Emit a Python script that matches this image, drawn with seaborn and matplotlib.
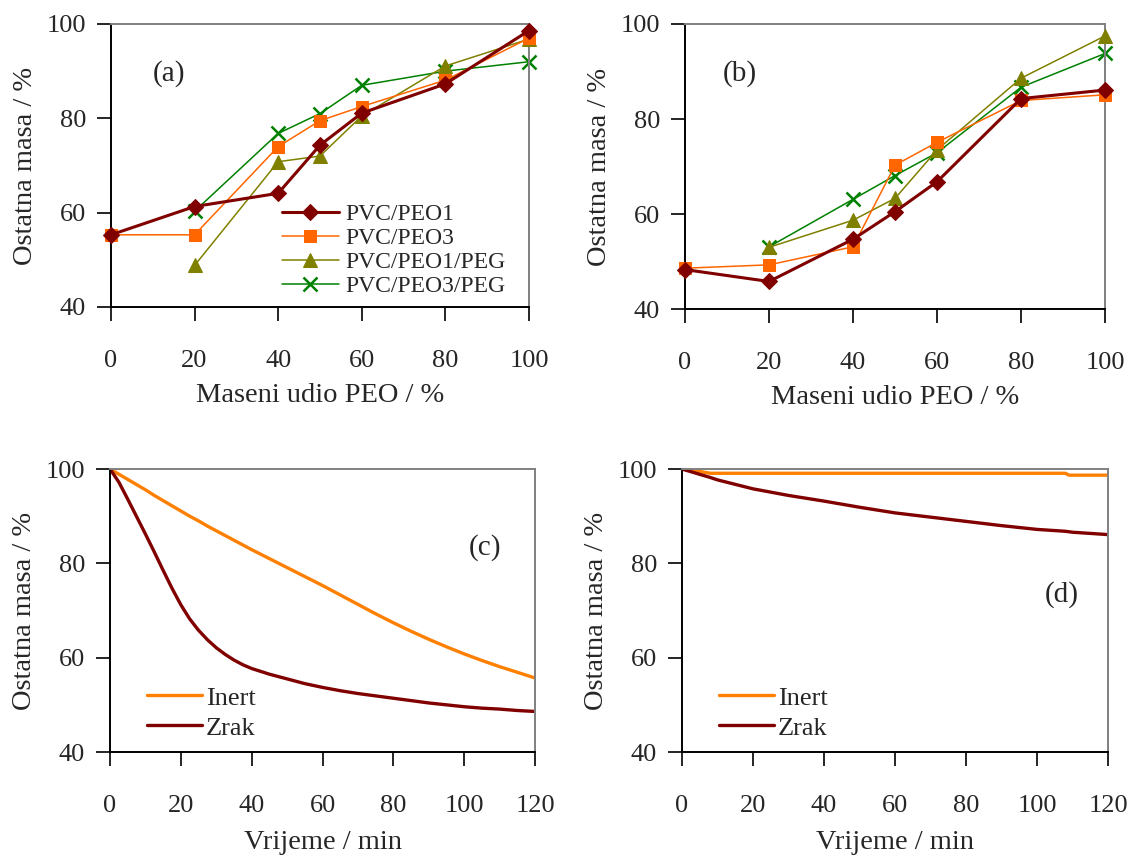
import numpy as np
import pandas as pd
import matplotlib
matplotlib.use("Agg")
import matplotlib.pyplot as plt
import seaborn as sns

# ---------------- data ----------------
peo_x = [0, 20, 40, 50, 60, 80, 100]
peo_x_peg = [20, 40, 50, 60, 80, 100]

# panel (a)
a_peo1 = [55.3, 61.3, 64.1, 74.3, 81.1, 87.3, 98.6]
a_peo3 = [55.3, 55.3, 74.0, 79.5, 82.5, 88.1, 97.0]
a_peo1_peg = [48.8, 70.8, 72.0, 80.5, 91.1, 96.8]
a_peo3_peg = [60.3, 76.8, 81.0, 87.0, 90.0, 92.0]

# panel (b)
b_peo1 = [48.3, 45.8, 54.7, 60.5, 66.8, 84.3, 86.1]
b_peo3 = [48.6, 49.3, 53.1, 70.3, 75.1, 83.9, 85.1]
b_peo1_peg = [53.0, 58.7, 63.3, 73.5, 88.6, 97.5]
b_peo3_peg = [53.1, 63.1, 68.1, 72.9, 86.7, 93.8]

series_names = ["PVC/PEO1", "PVC/PEO3", "PVC/PEO1/PEG", "PVC/PEO3/PEG"]

# panel (c) time curves
t_c = [0, 2.5, 5, 7.5, 10, 12.5, 15, 17.5, 20, 22.5, 25, 27.5, 30, 32.5, 35,
       37.5, 40, 45, 50, 55, 60, 65, 70, 75, 80, 85, 90, 95, 100, 105, 110,
       115, 120]
c_inert = [100.0, 98.9, 97.8, 96.7, 95.6, 94.4, 93.3, 92.2, 91.1, 90.0, 89.0,
           87.9, 86.9, 85.9, 84.9, 83.9, 82.9, 81.0, 79.1, 77.2, 75.3, 73.3,
           71.3, 69.3, 67.4, 65.6, 63.9, 62.3, 60.8, 59.4, 58.1, 56.9, 55.7]
c_zrak = [100.0, 97.2, 93.6, 89.9, 86.2, 82.4, 78.5, 74.7, 71.2, 68.2, 65.8,
          63.8, 62.1, 60.7, 59.5, 58.5, 57.7, 56.5, 55.5, 54.5, 53.7, 53.0,
          52.4, 51.9, 51.4, 50.9, 50.4, 50.0, 49.6, 49.3, 49.1, 48.8, 48.6]

# panel (d) time curves
t_d = [0, 4, 8, 10, 20, 30, 40, 50, 60, 70, 80, 90, 100, 108, 109, 110, 120]
d_inert = [100.0, 99.6, 99.1, 99.1, 99.1, 99.1, 99.1, 99.1, 99.1, 99.1, 99.1,
           99.1, 99.1, 99.1, 98.7, 98.7, 98.7]
d_zrak = [100.0, 99.1, 98.2, 97.7, 95.8, 94.4, 93.2, 91.9, 90.7, 89.8, 88.9,
          88.0, 87.2, 86.8, 86.7, 86.6, 86.1]

# ---------------- style ----------------
sns.set_style("ticks")
plt.rcParams["font.family"] = ["Liberation Serif", "DejaVu Serif"]
plt.rcParams["font.size"] = 19

TICK_FS = 19
LABEL_FS = 20.5
TAG_FS = 21

dark_red = "#800000"
orange = "#FF6600"
olive = "#808000"
green = "#008000"
inert_col = "#FF8000"

fig = plt.figure(figsize=(11.31, 8.57), dpi=100)

ax_a = fig.add_axes([0.0981, 0.6418, 0.3696, 0.3302])
ax_b = fig.add_axes([0.6057, 0.6394, 0.3714, 0.3326])
ax_c = fig.add_axes([0.0973, 0.1225, 0.3758, 0.3302])
ax_d = fig.add_axes([0.6030, 0.1225, 0.3767, 0.3302])


def style_axes(ax, xmax, xticks):
    ax.set_ylim(40, 100)
    ax.set_xlim(0, xmax)
    ax.set_yticks([40, 60, 80, 100])
    ax.set_xticks(xticks)
    ax.tick_params(axis="x", direction="out", length=10, width=1.2,
                   pad=21, labelsize=TICK_FS, color="black")
    ax.tick_params(axis="y", direction="out", length=10, width=1.2,
                   pad=8, labelsize=TICK_FS, color="black")
    for s in ["left", "bottom"]:
        ax.spines[s].set_color("black")
        ax.spines[s].set_linewidth(1.4)
    for s in ["top", "right"]:
        ax.spines[s].set_visible(True)
        ax.spines[s].set_color("#808080")
        ax.spines[s].set_linewidth(1.4)
    ax.set_ylabel("Ostatna masa / %", fontsize=LABEL_FS, labelpad=6)


def plot_blend(ax, y1, y3, y1p, y3p, legend):
    sns.lineplot(x=peo_x_peg, y=y3p, ax=ax, color=green, lw=1.1, marker="x",
                 markersize=10, markeredgewidth=1.8, markeredgecolor=green,
                 label=series_names[3], zorder=2)
    sns.lineplot(x=peo_x_peg, y=y1p, ax=ax, color=olive, lw=1.1, marker="^",
                 markersize=10, markeredgecolor=olive, label=series_names[2],
                 zorder=3)
    sns.lineplot(x=peo_x, y=y3, ax=ax, color=orange, lw=1.1, marker="s",
                 markersize=9, markeredgecolor=orange, label=series_names[1],
                 zorder=4)
    sns.lineplot(x=peo_x, y=y1, ax=ax, color=dark_red, lw=2.2, marker="D",
                 markersize=8, markeredgecolor=dark_red, label=series_names[0],
                 zorder=5)
    for ln in ax.lines:
        ln.set_clip_on(False)
    if legend:
        h, l = ax.get_legend_handles_labels()
        order = [3, 2, 1, 0]
        ax.legend([h[i] for i in order], [l[i] for i in order],
                  loc="lower left", bbox_to_anchor=(0.375, -0.015),
                  frameon=False, fontsize=17, handlelength=2.4,
                  handletextpad=0.3, labelspacing=0.1, borderaxespad=0.2)
    else:
        lg = ax.get_legend()
        if lg is not None:
            lg.remove()
    style_axes(ax, 100, [0, 20, 40, 60, 80, 100])
    ax.set_xlabel("Maseni udio PEO / %", fontsize=LABEL_FS, labelpad=8)


plot_blend(ax_a, a_peo1, a_peo3, a_peo1_peg, a_peo3_peg, True)
plot_blend(ax_b, b_peo1, b_peo3, b_peo1_peg, b_peo3_peg, False)
ax_a.text(14, 89.5, "(a)", fontsize=TAG_FS, ha="center", va="center")
ax_b.text(13, 89.5, "(b)", fontsize=TAG_FS, ha="center", va="center")


def plot_time(ax, t, inert, zrak, tag, tagpos):
    sns.lineplot(x=t, y=inert, ax=ax, color=inert_col, lw=2.4, label="Inert")
    sns.lineplot(x=t, y=zrak, ax=ax, color=dark_red, lw=2.4, label="Zrak")
    ax.legend(loc="lower left", bbox_to_anchor=(0.03, -0.04), frameon=False,
              fontsize=19, handlelength=2.1, handletextpad=0.15,
              labelspacing=0.25)
    style_axes(ax, 120, [0, 20, 40, 60, 80, 100, 120])
    ax.set_xlabel("Vrijeme / min", fontsize=LABEL_FS, labelpad=9)
    ax.text(tagpos[0], tagpos[1], tag, fontsize=TAG_FS, ha="center",
            va="center")


plot_time(ax_c, t_c, c_inert, c_zrak, "(c)", (106, 83.3))
plot_time(ax_d, t_d, d_inert, d_zrak, "(d)", (107, 73.4))

fig.savefig("out.png", dpi=100)
